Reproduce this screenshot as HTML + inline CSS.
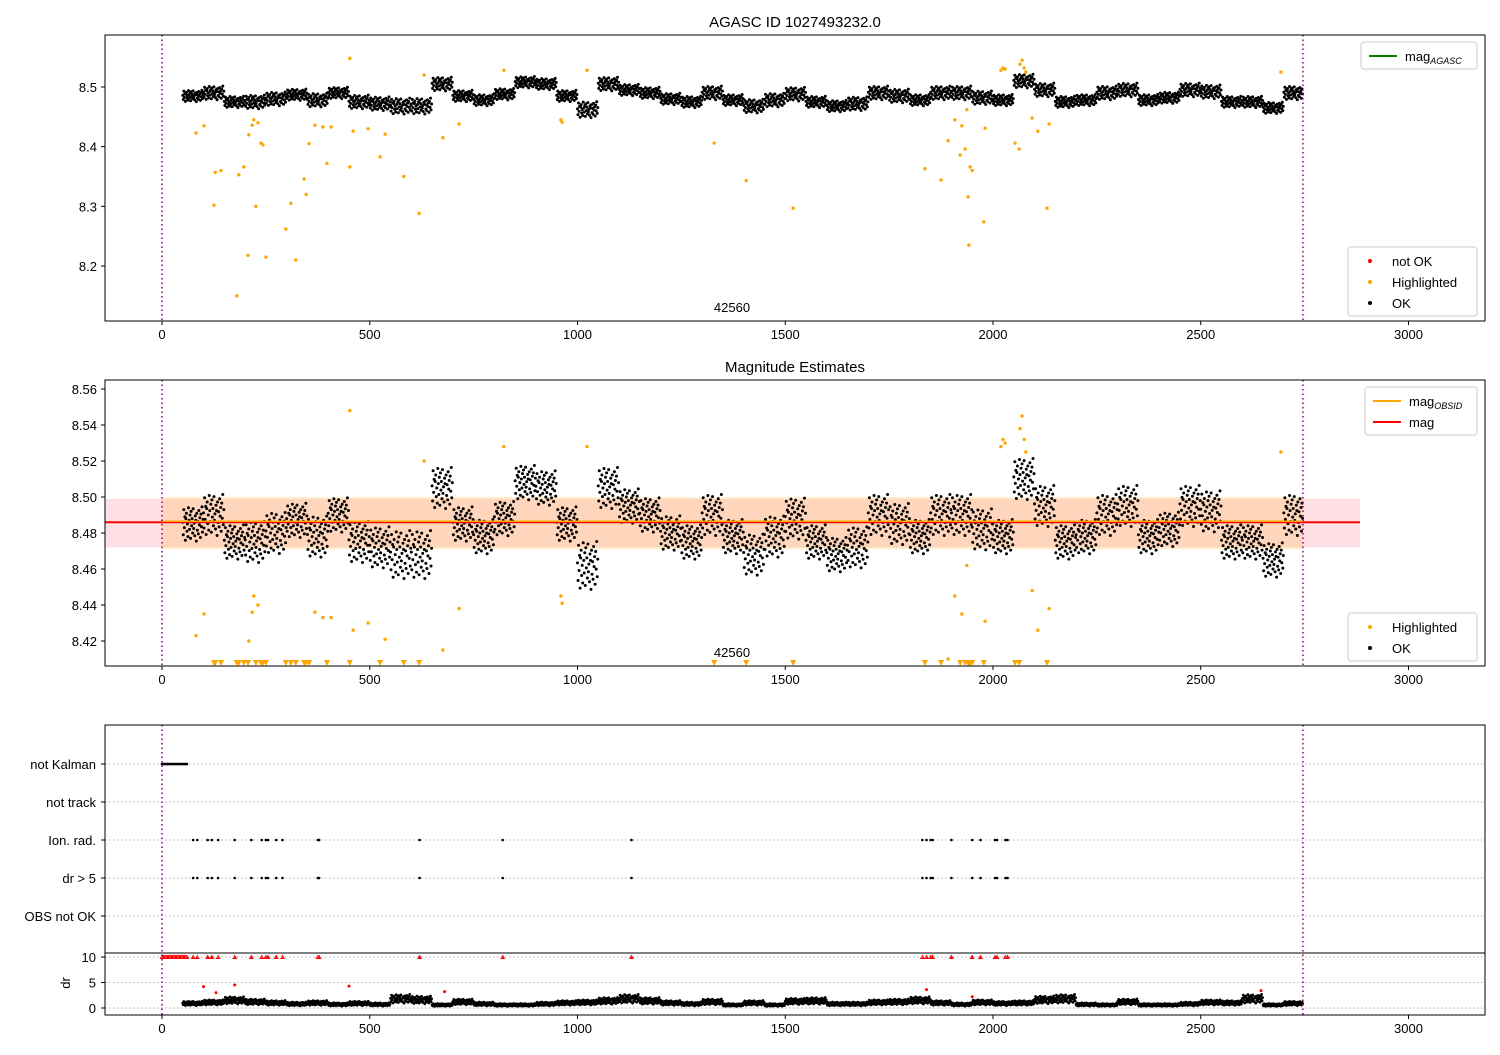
<!DOCTYPE html>
<html><head><meta charset="utf-8"><style>
html,body{margin:0;padding:0;background:#fff;}
svg text{font-family:"Liberation Sans","DejaVu Sans",sans-serif;font-size:13px;fill:#000;}
</style></head><body>
<svg id="c" width="1500" height="1050" xmlns="http://www.w3.org/2000/svg"></svg>
<script>
// ---- data ----
const binStart = 50;          // time units per bin for mean series
const okMeans = [8.485,8.49,8.475,8.475,8.48,8.487,8.478,8.49,8.475,8.472,8.468,8.468,8.505,8.485,8.478,8.488,8.508,8.505,8.485,8.462,8.505,8.495,8.49,8.48,8.475,8.49,8.478,8.468,8.478,8.488,8.475,8.468,8.472,8.49,8.485,8.478,8.49,8.49,8.482,8.478,8.51,8.495,8.475,8.478,8.49,8.495,8.478,8.482,8.495,8.492,8.475,8.475,8.465,8.49,8.493];
const okSpread = [0.01,0.012,0.01,0.012,0.012,0.01,0.012,0.01,0.012,0.012,0.014,0.014,0.012,0.01,0.01,0.01,0.01,0.01,0.01,0.014,0.012,0.01,0.01,0.01,0.01,0.012,0.01,0.012,0.012,0.012,0.01,0.01,0.012,0.012,0.012,0.01,0.012,0.012,0.012,0.01,0.012,0.012,0.01,0.01,0.012,0.012,0.01,0.01,0.012,0.012,0.01,0.01,0.01,0.012,0.012];
const hlT = [82,101,125,128,142,180,185,197,207,209,217,221,226,231,238,243,250,298,310,322,342,347,354,368,387,397,407,452,452,460,496,525,537,582,619,631,676,715,823,960,963,1023,1329,1406,1519,1836,1875,1892,1908,1921,1925,1933,1937,1940,1942,1945,1950,1978,1981,2019,2024,2029,2053,2063,2065,2070,2075,2079,2094,2108,2130,2135,2693];
const hlMag = [8.423,8.435,8.302,8.357,8.36,8.15,8.353,8.366,8.218,8.42,8.436,8.445,8.30,8.44,8.406,8.403,8.215,8.262,8.305,8.21,8.346,8.32,8.405,8.436,8.433,8.372,8.433,8.548,8.366,8.426,8.43,8.383,8.421,8.35,8.288,8.52,8.415,8.438,8.528,8.445,8.441,8.528,8.406,8.343,8.297,8.363,8.344,8.41,8.445,8.386,8.435,8.396,8.462,8.316,8.235,8.366,8.36,8.274,8.431,8.528,8.532,8.530,8.406,8.396,8.538,8.545,8.532,8.525,8.448,8.426,8.297,8.438,8.525];
const flagT = [75,85,110,120,135,175,215,240,250,255,275,290,375,378,620,820,1130,1830,1840,1850,1855,1900,1950,1970,2005,2010,2030,2035];
const kalmanEnd = 62;
const drMeans = [0.9,1.1,1.5,1.2,1.0,0.8,1.0,0.7,0.9,0.7,1.8,1.6,0.6,1.2,0.8,0.6,0.6,0.8,1.0,1.1,1.4,1.8,1.4,1.0,0.8,1.2,0.6,1.0,0.6,1.3,1.4,0.8,0.8,1.1,1.2,1.5,1.0,0.7,1.1,0.9,1.0,1.6,1.8,0.7,0.6,1.2,0.6,0.6,0.8,1.1,1.0,1.8,0.6,0.9,0.7];
const drRedT = [100,130,175,450,680,1840,1950,2645];
const drRedV = [4.2,3.0,4.5,4.3,3.2,3.6,2.2,3.4];
const xTicks = [0,500,1000,1500,2000,2500,3000];
const y1Ticks = [8.2,8.3,8.4,8.5];
const y2Ticks = [8.42,8.44,8.46,8.48,8.50,8.52,8.54,8.56];
const flagLabels = ["not Kalman","not track","Ion. rad.","dr > 5","OBS not OK"];
const drTicks = [0,5,10];
const tEnd = 2746, magMean = 8.486, bandLo = 8.472, bandHi = 8.499;

// fixed scatter pattern (unitless offsets within a bin)
const PAT = [0.1,-0.6,0.8,-0.2,0.4,-0.9,0.3,0.6,-0.4,0.0,-0.7,0.9,0.2,-0.3,0.5,-0.8,0.7,-0.1,0.3,-0.5,0.85,-0.25,0.05,-0.65,0.45,0.2,-0.95,0.6,-0.35,0.15,-0.55,0.75,-0.05,0.35,-0.75,0.55,-0.15,0.95,-0.45,0.25];

// ---- axes ----
const X = t => 162 + t*0.4155;
const Y1 = m => 87 + (8.5-m)*596.7;
const Y2 = m => 497 + (8.5-m)*1800;
const Ydr = v => 1008 - v*5.1;
const NS="http://www.w3.org/2000/svg", svg=document.getElementById('c');
function mk(tag,attrs,parent){const e=document.createElementNS(NS,tag);for(const k in attrs)e.setAttribute(k,attrs[k]);(parent||svg).appendChild(e);return e;}
function txt(x,y,s,anchor,size){const e=mk('text',{x:x,y:y,'text-anchor':anchor||'middle'});if(size)e.style.fontSize=size+'px';e.textContent=s;return e;}

const defs=mk('defs',{});
[['cp1',105,35,1380,286],['cp2',105,380,1380,286],['cp3',105,725,1380,290]].forEach(a=>{const c=mk('clipPath',{id:a[0]},defs);mk('rect',{x:a[1],y:a[2],width:a[3],height:a[4]},c);});

function xAxis(yb){
  xTicks.forEach(t=>{mk('line',{x1:X(t),x2:X(t),y1:yb,y2:yb+4,stroke:'#000'});
    const l=txt(X(t),yb+18,String(t));
    
    });
}
function frame(y,h,name){const r=mk('rect',{x:105,y:y,width:1380,height:h,fill:'none',stroke:'#000','stroke-width':1});
  
  }
function okPoints(g,Yf,r){
  okMeans.forEach((m,i)=>{
    const t0=binStart+i*50;
    PAT.forEach((p,j)=>{const t=t0+j*1.25; if(t>tEnd)return;
      const c=mk('circle',{cx:X(t),cy:Yf(m+p*okSpread[i]),r:r,fill:'#000'},g);
      
      });
  });
}
function vlines(y1,y2){[0,tEnd].forEach(t=>{const l=mk('line',{x1:X(t),x2:X(t),y1:y1,y2:y2,stroke:'#800080','stroke-width':1.5,'stroke-dasharray':'1.5,3'});
  
  });}
function legend(x,y,w,items){
  const g=mk('g',{});
  mk('rect',{x:x,y:y,width:w,height:items.length*21+6,fill:'#fff',stroke:'#ccc',rx:3},g);
  items.forEach((it,i)=>{const cy=y+14+i*21;
    if(it.type==='line') mk('line',{x1:x+8,x2:x+36,y1:cy,y2:cy,stroke:it.color,'stroke-width':2},g);
    else mk('circle',{cx:x+22,cy:cy,r:2,fill:it.color},g);
    const t=mk('text',{x:x+44,y:cy+5},g);t.innerHTML=it.label;});
  return g;
}

// ===== Panel 1 =====
txt(795,27,'AGASC ID 1027493232.0',null,15);
const g1=mk('g',{'clip-path':'url(#cp1)'});
okPoints(g1,Y1,1.5);
hlT.forEach((t,i)=>{const c=mk('circle',{cx:X(t),cy:Y1(hlMag[i]),r:1.7,fill:'orange'},g1);
  
  });
vlines(35,321);
frame(35,286,'top-axes');
xAxis(321);
y1Ticks.forEach(m=>{mk('line',{x1:101,x2:105,y1:Y1(m),y2:Y1(m),stroke:'#000'});txt(97,Y1(m)+5,m.toFixed(1),'end');});
txt(732,312,'42560');
const lg1=legend(1361,42,116,[{type:'line',color:'green',label:'mag<tspan font-size="9" font-style="italic" dy="3">AGASC</tspan>'}]);


const lg2=legend(1348,247,129,[{type:'dot',color:'red',label:'not OK'},{type:'dot',color:'orange',label:'Highlighted'},{type:'dot',color:'#000',label:'OK'}]);



// ===== Panel 2 =====
txt(795,372,'Magnitude Estimates',null,15);
const g2=mk('g',{'clip-path':'url(#cp2)'});
const band=mk('rect',{x:105,y:Y2(bandHi),width:1360-105,height:Y2(bandLo)-Y2(bandHi),fill:'rgba(255,0,40,0.12)'},g2);


const band2=mk('rect',{x:X(0),y:Y2(bandHi+0.001),width:X(tEnd)-X(0),height:Y2(bandLo-0.001)-Y2(bandHi+0.001),fill:'rgba(255,165,0,0.18)'},g2);


okPoints(g2,Y2,1.5);
const ml=mk('line',{x1:105,x2:1360,y1:Y2(magMean),y2:Y2(magMean),stroke:'red','stroke-width':2},g2);


const ol=mk('line',{x1:X(0),x2:X(tEnd),y1:Y2(magMean)-1,y2:Y2(magMean)-1,stroke:'orange','stroke-width':1.5},g2);


hlT.forEach((t,i)=>{const m=hlMag[i];
  if(m>=8.408){const c=mk('circle',{cx:X(t),cy:Y2(m),r:1.7,fill:'orange'},g2);
    
    }
  else{const x=X(t),y=663;const p=mk('path',{d:`M${x-3},${y-3}L${x+3},${y-3}L${x},${y+3}Z`,fill:'orange'},g2);
    
    }});
vlines(380,666);
frame(380,286,'middle-axes');
xAxis(666);
y2Ticks.forEach(m=>{mk('line',{x1:101,x2:105,y1:Y2(m),y2:Y2(m),stroke:'#000'});txt(97,Y2(m)+5,m.toFixed(2),'end');});
txt(732,657,'42560');
const lg3=legend(1365,387,112,[{type:'line',color:'orange',label:'mag<tspan font-size="9" font-style="italic" dy="3">OBSID</tspan>'},{type:'line',color:'red',label:'mag'}]);


const lg4=legend(1348,613,129,[{type:'dot',color:'orange',label:'Highlighted'},{type:'dot',color:'#000',label:'OK'}]);



// ===== Panel 3 (flags) =====
const fy=i=>764+i*38;
flagLabels.forEach((s,i)=>{mk('line',{x1:105,x2:1485,y1:fy(i),y2:fy(i),stroke:'#b0b0b0','stroke-dasharray':'1.5,2.5'});
  mk('line',{x1:101,x2:105,y1:fy(i),y2:fy(i),stroke:'#000'});
  const l=txt(96,fy(i)+5,s,'end');
  
  });
const g3=mk('g',{'clip-path':'url(#cp3)'});
for(let t=0;t<=kalmanEnd;t+=2.5){const c=mk('circle',{cx:X(t),cy:fy(0),r:1.3,fill:'#000'},g3);
  
  }
flagT.forEach(t=>{[2,3].forEach(k=>{const c=mk('circle',{cx:X(t),cy:fy(k),r:1.3,fill:'#000'},g3);
  
  });});
drTicks.forEach(v=>{mk('line',{x1:105,x2:1485,y1:Ydr(v),y2:Ydr(v),stroke:'#b0b0b0','stroke-dasharray':'1.5,2.5'});
  mk('line',{x1:101,x2:105,y1:Ydr(v),y2:Ydr(v),stroke:'#000'});txt(96,Ydr(v)+5,String(v),'end');});
const drl=mk('text',{x:70,y:983,'text-anchor':'middle',transform:'rotate(-90 70 983)'});drl.textContent='dr';
const tri=(x,y)=>`M${x-2.5},${y+2}L${x+2.5},${y+2}L${x},${y-2.5}Z`;
for(let t=0;t<=kalmanEnd;t+=2.5){const p=mk('path',{d:tri(X(t),Ydr(10)),fill:'red'},g3);
  
  }
flagT.forEach(t=>{const p=mk('path',{d:tri(X(t),Ydr(10)),fill:'red'},g3);
  
  });
drMeans.forEach((m,i)=>{const t0=binStart+i*50;
  PAT.forEach((p,j)=>{const t=t0+j*1.25;if(t>tEnd)return;
    const c=mk('circle',{cx:X(t),cy:Ydr(m*(1+0.5*p)),r:1.4,fill:'#000'},g3);
    
    });});
drRedT.forEach((t,i)=>{const c=mk('circle',{cx:X(t),cy:Ydr(drRedV[i]),r:1.5,fill:'red'},g3);
  
  });
vlines(725,1015);
frame(725,290,'bottom-axes');
mk('line',{x1:105,x2:1485,y1:953,y2:953,stroke:'#000'});
xAxis(1015);
</script>
</body></html>
